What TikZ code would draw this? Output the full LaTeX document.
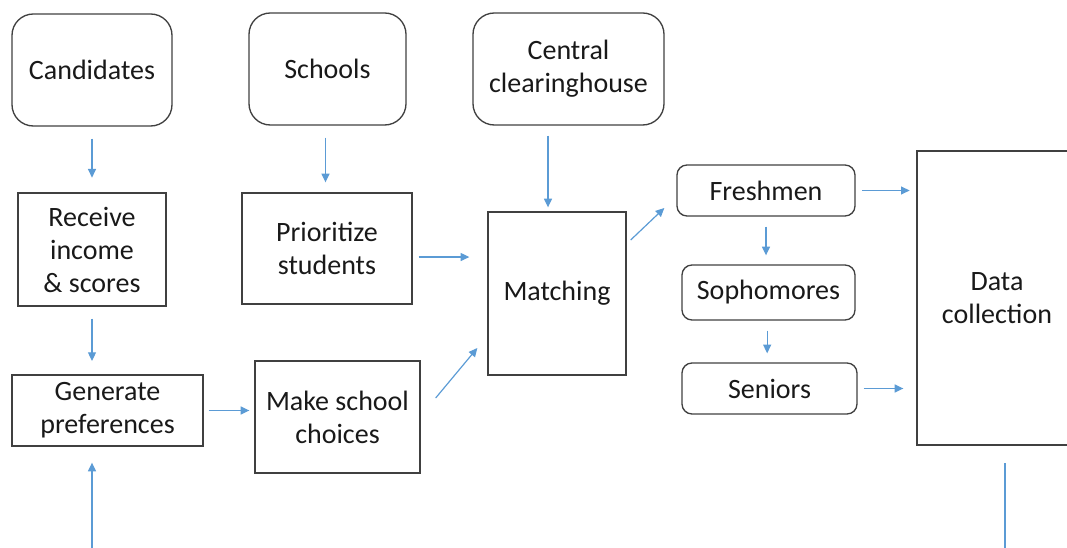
\documentclass[tikz,border=0pt]{standalone}
\usepackage{fontspec}
\setmainfont{Carlito}
\usetikzlibrary{arrows.meta,positioning,calc}

\definecolor{flowblue}{HTML}{5B9BD5}
\definecolor{boxgray}{HTML}{404040}

\tikzset{
  box/.style={rectangle,draw=boxgray,line width=1pt,align=center,inner sep=0pt,
    font=\fontsize{21}{24.75}\selectfont,text=black!90},
  agent/.style={box,rounded corners=16pt},
  cohort/.style={box,rounded corners=7.5pt},
  arr/.style={draw=flowblue,line width=0.9pt,-{Triangle[length=6.5pt,width=6pt]}}
}

\begin{document}
\begin{tikzpicture}[x=0.75pt,y=-0.75pt]
    \clip (0,0) rectangle (1067,548);

    % Actors
    \node[agent,minimum width=120pt,minimum height=84pt] (cand) at (92,70) {Candidates};
    \node[agent,minimum width=117.75pt,minimum height=84pt] (schools) at (327.5,69) {Schools};
    \node[agent,minimum width=143.25pt,minimum height=84pt] (central) at (568.5,69) {Central\\clearinghouse};

    % Steps
    \node[box,minimum width=111pt,minimum height=84.75pt] (receive) at (92,249.5) {Receive\\income\\\& scores};
    \node[box,minimum width=127.5pt,minimum height=83.25pt] (prio) at (327,248.5) {Prioritize\\students};
    \node[box,minimum width=143.25pt,minimum height=53.25pt] (gen) at (107.5,410.5) {Generate\\preferences};
    \node[box,minimum width=123.75pt,minimum height=84pt] (make) at (337.5,417) {Make school\\choices};
    \node[box,minimum width=103.5pt,minimum height=122.25pt] (match) at (557,293.5) {Matching};

    % Cohorts
    \node[cohort,minimum width=133.5pt,minimum height=38.25pt] (fresh) at (766,190.5) {Freshmen};
    \node[cohort,minimum width=129.75pt,minimum height=41.25pt] (soph) at (768.5,292.5) {Sophomores};
    \node[cohort,minimum width=131.25pt,minimum height=38.25pt] (sen) at (769.5,388.5) {Seniors};

    % Data collection
    \node[box,minimum width=120pt,minimum height=220.5pt] (data) at (997,298) {Data\\collection};

    % Free ends at the bottom
    \coordinate (genin) at (92,548);
    \coordinate (dataout) at (1005,548);

    % Arrows
    \draw[arr,shorten <=9pt,shorten >=11pt] (cand) -- (receive);
    \draw[arr,shorten <=9pt,shorten >=10pt] (receive.south) -- (receive.south |- gen.north);
    \draw[arr,shorten >=12pt] (genin) -- (genin |- gen.south);
    \draw[arr,shorten <=9pt,shorten >=7.5pt] ([xshift=-1.5pt]schools.south) -- ([xshift=-1.5pt]schools.south |- prio.north);
    \draw[arr,shorten <=7.5pt,shorten >=3pt] ([xshift=-6.75pt]match.north |- central.south) -- ([xshift=-6.75pt]match.north);
    \draw[arr,shorten <=4.5pt,shorten >=13.5pt] ([yshift=-6.4pt]prio.east) -- ([yshift=-6.4pt]prio.east -| match.west);
    \draw[arr,shorten <=3.75pt,shorten >=3.75pt] (gen.east) -- (gen.east -| make.west);
    \draw[arr] ($(make.east)+(15,-19)$) -- ($(match.west)+(-10,54.5)$);
    \draw[arr] ($(match.east)+(4,-53.5)$) -- ($(fresh.west)+(-12,17.5)$);
    \draw[arr,shorten <=7.5pt,shorten >=6.75pt] (fresh.south) -- (fresh.south |- soph.north);
    \draw[arr,shorten <=7.5pt,shorten >=6.75pt] ([xshift=-1pt]soph.south) -- ([xshift=-1pt]soph.south |- sen.north);
    \draw[arr,shorten <=5pt,shorten >=5pt] (fresh.east) -- (fresh.east -| data.west);
    \draw[arr,shorten <=4.5pt,shorten >=9.75pt] (sen.east) -- (sen.east -| data.west);
    \draw[draw=flowblue,line width=0.9pt,shorten >=12.75pt] (dataout) -- (dataout |- data.south);
\end{tikzpicture}
\end{document}
